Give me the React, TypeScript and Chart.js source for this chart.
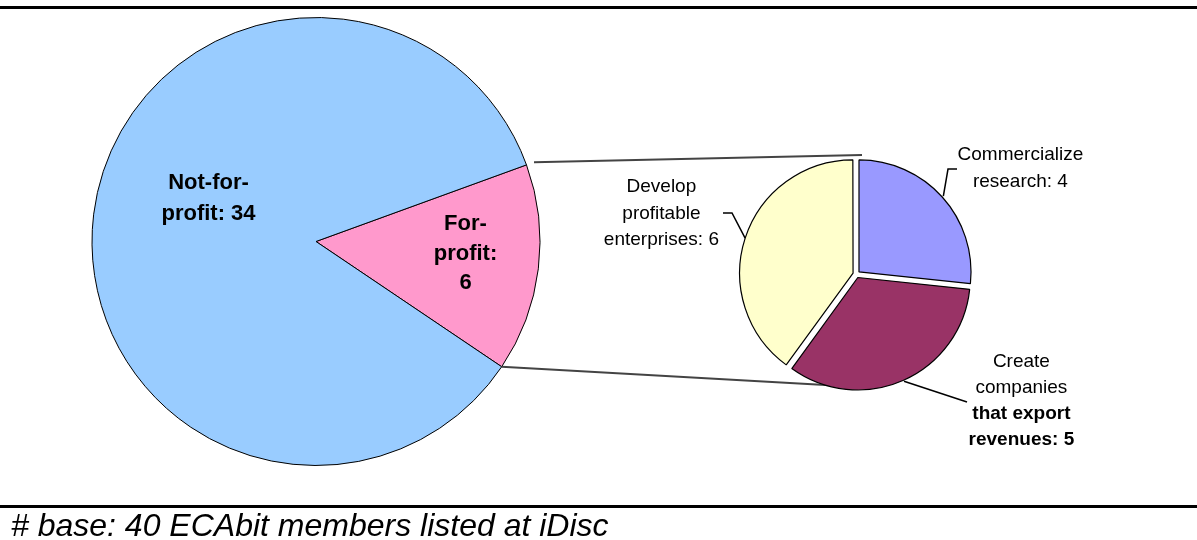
import React, { useEffect, useRef } from 'react';
import { Chart, registerables } from 'chart.js';
Chart.register(...registerables);

// ---- data ----
const mainCategories = ['For-profit', 'Not-for-profit'];
const mainValues = [6, 34];
const mainLabelTemplates = ['For-|profit:|{v}', 'Not-for-|profit: {v}'];
const mainColors = ['#FF99CC', '#99CCFF'];

const subCategories = [
  'Commercialize research',
  'Create companies that export revenues',
  'Develop profitable enterprises',
];
const subValues = [4, 5, 6];
// "*" marks a bold line
const subLabelTemplates = [
  'Commercialize|research: {v}',
  'Create|companies|*that export|*revenues: {v}',
  'Develop|profitable|enterprises: {v}',
];
const subColors = ['#9999FF', '#993366', '#FFFFCC'];

const footnote = '# base: 40 ECAbit members listed at iDisc';

const FONT = '"Liberation Sans", Arial, Helvetica, sans-serif';

type LabelItem = { dx: number; dy: number; lh: number; leader?: number[][] };

function makeLabelPlugin(templates: string[], items: LabelItem[], size: number, bold: boolean) {
  return {
    id: 'sliceLabels',
    afterDatasetsDraw(chart: any) {
      const meta = chart.getDatasetMeta(0);
      const first = meta.data[0];
      if (!first) return;
      const cx = first.x;
      const cy = first.y;
      const r = first.outerRadius;
      const ctx = chart.ctx;
      const vals = chart.data.datasets[0].data;
      ctx.save();
      items.forEach((it, i) => {
        if (it.leader) {
          const arc = meta.data[i];
          const mid = (arc.startAngle + arc.endAngle) / 2;
          ctx.beginPath();
          ctx.strokeStyle = '#000';
          ctx.lineWidth = 1.5;
          ctx.moveTo(cx + Math.cos(mid) * (r + 5), cy + Math.sin(mid) * (r + 5));
          it.leader.forEach(([dx, dy]) => ctx.lineTo(cx + dx, cy + dy));
          ctx.stroke();
        }
        const lines = templates[i].replace('{v}', String(vals[i])).split('|');
        ctx.fillStyle = '#000';
        ctx.textAlign = 'center';
        ctx.textBaseline = 'alphabetic';
        lines.forEach((ln, k) => {
          const b = bold || ln.startsWith('*');
          const t = ln.startsWith('*') ? ln.slice(1) : ln;
          ctx.font = `${b ? 'bold ' : ''}${size}px ${FONT}`;
          ctx.fillText(t, cx + it.dx, cy + it.dy + k * it.lh);
        });
      });
      ctx.restore();
    },
  };
}

export default function App() {
  const mainRef = useRef<HTMLCanvasElement>(null);
  const subRef = useRef<HTMLCanvasElement>(null);

  useEffect(() => {
    document.body.style.margin = '0';
    if (!mainRef.current || !subRef.current) return;

    const mainChart = new Chart(mainRef.current, {
      type: 'pie',
      data: {
        labels: mainCategories,
        datasets: [
          {
            data: mainValues,
            backgroundColor: mainColors,
            borderColor: '#000',
            borderWidth: 1,
            radius: 224,
          } as any,
        ],
      },
      options: {
        responsive: false,
        animation: false,
        events: [],
        rotation: 70,
        layout: { padding: { left: 92, right: 657, top: 17.5, bottom: 74.5 } },
        plugins: { legend: { display: false }, tooltip: { enabled: false }, title: { display: false } },
      },
      plugins: [
        makeLabelPlugin(
          mainLabelTemplates,
          [
            { dx: 149.5, dy: -11.5, lh: 29.5 },
            { dx: -107.5, dy: -52.5, lh: 31 },
          ],
          22,
          true
        ),
      ],
    });

    const connectorPlugin = {
      id: 'connectors',
      beforeDatasetsDraw(chart: any) {
        const bigMeta = mainChart.getDatasetMeta(0);
        const slice: any = bigMeta.data[0];
        const small: any = chart.getDatasetMeta(0).data[0];
        if (!slice || !small) return;
        const bx = slice.x, by = slice.y, br = slice.outerRadius;
        const sx = small.x, sy = small.y, sr = small.outerRadius;
        const ctx = chart.ctx;
        ctx.save();
        ctx.strokeStyle = '#444';
        ctx.lineWidth = 2;
        ctx.beginPath();
        ctx.moveTo(bx + Math.cos(slice.startAngle) * (br + 8), by + Math.sin(slice.startAngle) * (br + 8));
        ctx.lineTo(sx + 5.6, sy - sr - 7.3);
        ctx.moveTo(bx + Math.cos(slice.endAngle) * br, by + Math.sin(slice.endAngle) * br);
        ctx.lineTo(sx, sy + sr + 0.5);
        ctx.stroke();
        ctx.restore();
      },
    };

    const subChart = new Chart(subRef.current, {
      type: 'pie',
      data: {
        labels: subCategories,
        datasets: [
          {
            data: subValues,
            backgroundColor: subColors,
            borderColor: '#000',
            borderWidth: 1.2,
            offset: 14,
            radius: 112,
          } as any,
        ],
      },
      options: {
        responsive: false,
        animation: false,
        events: [],
        rotation: 0,
        layout: { padding: { left: 736.4, right: 220.6, top: 154.3, bottom: 145.7 } },
        plugins: { legend: { display: false }, tooltip: { enabled: false }, title: { display: false } },
      },
      plugins: [
        connectorPlugin,
        makeLabelPlugin(
          subLabelTemplates,
          [
            { dx: 164, dy: -114.3, lh: 26.5, leader: [[91.6, -105.3], [100.6, -105.3]] },
            { dx: 165, dy: 92.7, lh: 26, leader: [[110.6, 127.7]] },
            { dx: -195, dy: -82, lh: 26.5, leader: [[-124.4, -61.3], [-133.4, -61.3]] },
          ],
          19,
          false
        ),
      ],
    });

    return () => {
      subChart.destroy();
      mainChart.destroy();
    };
  }, []);

  return (
    <div style={{ position: 'relative', width: 1197, height: 540, overflow: 'hidden', background: '#fff' }}>
      <div style={{ position: 'absolute', left: 0, top: 6, width: 1197, height: 3, background: '#000' }} />
      <canvas ref={mainRef} width={1197} height={540} style={{ position: 'absolute', left: 0, top: 0 }} />
      <canvas ref={subRef} width={1197} height={540} style={{ position: 'absolute', left: 0, top: 0 }} />
      <div style={{ position: 'absolute', left: 0, top: 505, width: 1197, height: 3, background: '#000' }} />
      <div
        style={{
          position: 'absolute',
          left: 11,
          top: 509,
          fontFamily: FONT,
          fontStyle: 'italic',
          fontSize: 32,
          lineHeight: '32px',
          whiteSpace: 'nowrap',
          color: '#000',
        }}
      >
        {footnote}
      </div>
    </div>
  );
}
